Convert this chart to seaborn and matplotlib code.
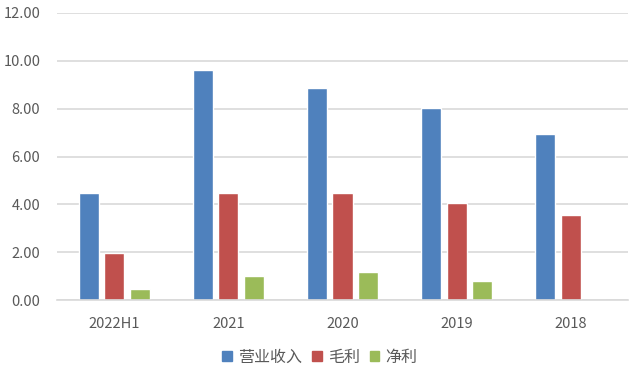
import matplotlib
matplotlib.use('Agg')
import matplotlib.pyplot as plt
import seaborn as sns
import pandas as pd

periods = ['2022H1', '2021', '2020', '2019', '2018']
revenue = [4.48, 9.62, 8.85, 8.02, 6.92]
gross_profit = [1.95, 4.48, 4.48, 4.04, 3.54]
net_profit = [0.44, 0.99, 1.19, 0.81, 0.0]
series_names = ['营业收入', '毛利', '净利']
colors = ['#4f81bd', '#c0504d', '#9bbb59']

df = pd.DataFrame({
    'period': periods * 3,
    'value': revenue + gross_profit + net_profit,
    'series': [s for s in series_names for _ in periods],
})

sns.set_style('white')
plt.rcParams['font.family'] = ['Noto Sans CJK SC', 'DejaVu Sans']

fig = plt.figure(figsize=(6.4, 3.73), dpi=100)
ax = fig.add_axes([57 / 640, 1 - 300 / 373, 571 / 640, 287 / 373])

sns.barplot(data=df, x='period', y='value', hue='series', palette=colors,
            width=0.67, gap=0.21, ax=ax, legend=False, saturation=1)

ax.set_ylim(0, 12)
ax.set_yticks(range(0, 13, 2))
ax.set_yticklabels([f'{v:.2f}' for v in range(0, 13, 2)])
ax.set_xlim(-0.5, len(periods) - 0.5)
ax.set_xlabel('')
ax.set_ylabel('')
ax.yaxis.grid(True, color='#d9d9d9', linewidth=1.2)
ax.set_axisbelow(True)
for side in ['top', 'right', 'left']:
    ax.spines[side].set_visible(False)
ax.spines['bottom'].set_color('#d9d9d9')
ax.spines['bottom'].set_linewidth(1.2)
ax.tick_params(axis='both', length=0, labelsize=10.5, colors='#595959')
ax.tick_params(axis='x', pad=12)
ax.tick_params(axis='y', pad=12)

handles = [plt.Rectangle((0, 0), 1, 1, color=c) for c in colors]
fig.legend(handles, series_names, loc='center', bbox_to_anchor=(0.5, 1 - 357 / 373),
           ncol=3, frameon=False, fontsize=11.5, handlelength=0.6, handleheight=0.6,
           handletextpad=0.4, columnspacing=0.6, labelcolor='#595959')

fig.savefig('out.png', dpi=100)
